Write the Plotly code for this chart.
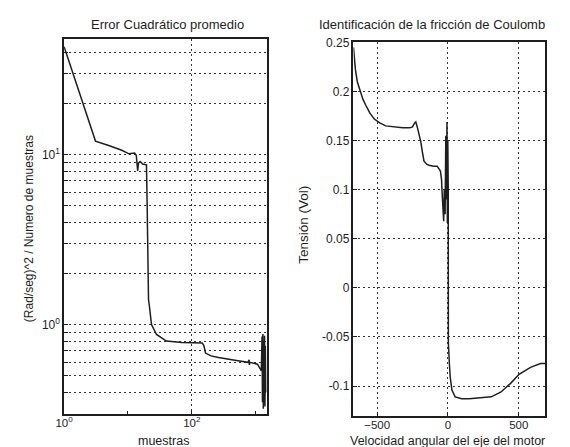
import plotly.graph_objects as go
import math

# ---- Left panel: mean squared error vs samples (log-log) ----
err_samples = [1, 3.1, 5, 8, 10.4, 12.7, 13.5, 14.2, 14.6, 15.5, 17, 19.5, 20, 20.5, 21, 21.6,
               23.4, 28, 40, 70, 146, 155, 164, 200, 262, 500, 760, 790, 800, 810, 1070, 1230,
               1260, 1280, 1300, 1320, 1340, 1360, 1380, 1400, 1420, 1440]
err_values = [43, 12, 11.3, 10.6, 10.1, 10.2, 9.9, 8.0, 8.9, 9.1, 8.8, 8.7, 5, 2, 1.4, 1.3,
              1.0, 0.875, 0.8, 0.785, 0.78, 0.75, 0.68, 0.655, 0.64, 0.615, 0.60, 0.62, 0.58, 0.60, 0.585, 0.535,
              0.85, 0.35, 0.88, 0.32, 0.8, 0.34, 0.86, 0.33, 0.75, 0.4]

# ---- Right panel: Coulomb friction identification ----
vel = [-667, -662, -653, -640, -620, -600, -580, -551, -520, -481, -440, -389, -319, -270, -250,
       -235, -227, -215, -192, -180, -169, -150, -134, -100, -76, -53, -45, -42, -38, -30, -26,
       -20, -15, -10, -7, -4, -1, 2, 3, 5, 10, 16, 28, 51, 97, 150, 236, 306, 375, 444, 502,
       583, 653, 688]
tension = [0.245, 0.232, 0.222, 0.21, 0.2, 0.192, 0.186, 0.178, 0.172, 0.168, 0.165, 0.164, 0.163,
           0.163, 0.164, 0.168, 0.169, 0.163, 0.149, 0.138, 0.129, 0.126, 0.125, 0.124, 0.124, 0.119,
           0.11, 0.099, 0.09, 0.068, 0.1, 0.075, 0.155, 0.09, 0.169, 0.066, 0.15, 0.1, -0.056, -0.071,
           -0.077, -0.091, -0.104, -0.111, -0.113, -0.113, -0.112, -0.111, -0.106, -0.097, -0.088,
           -0.081, -0.077, -0.077]

left_ygrid = [0.3, 0.4, 0.5, 0.6, 0.7, 0.8, 0.9, 1, 2, 3, 4, 5, 6, 7, 8, 9, 10, 20, 30, 40]
left_ylabels = {1: "10<sup>0</sup>", 10: "10<sup>1</sup>"}
left_xticks = [1, 100]
left_xlabels = ["10<sup>0</sup>", "10<sup>2</sup>"]
right_xticks = [-500, 0, 500]
right_yticks = [-0.1, -0.05, 0, 0.05, 0.1, 0.15, 0.2, 0.25]
right_ylabels = ["-0.1", "-0.05", "0", "0.05", "0.1", "0.15", "0.2", "0.25"]

W, H = 570, 447
ink = "#1e1e1e"
fam = "Liberation Sans, Arial, sans-serif"
font = dict(family=fam, size=12, color=ink)

fig = go.Figure()
fig.add_trace(go.Scatter(x=err_samples, y=err_values, mode="lines",
                         line=dict(color=ink, width=1.5), xaxis="x", yaxis="y", showlegend=False))
fig.add_trace(go.Scatter(x=vel, y=tension, mode="lines",
                         line=dict(color=ink, width=1.5), xaxis="x2", yaxis="y2", showlegend=False))

grid = dict(showgrid=True, gridcolor="#333", griddash="2px,3px", gridwidth=1)
frame = dict(showline=True, linecolor=ink, linewidth=1.5, mirror=True, zeroline=False,
             ticks="inside", ticklen=4, tickcolor=ink)
yfont = dict(tickfont=dict(size=12, color=ink))
xfont = dict(tickfont=dict(size=11.5, color=ink), ticklabelstandoff=-2)

def px_x(p):
    return p / W

def px_y(p):
    return 1 - p / H

def label(text, x, y, size, angle=0):
    return dict(text=text, x=px_x(x), y=px_y(y), xref="paper", yref="paper", showarrow=False,
                font=dict(family=fam, size=size, color=ink), xanchor="center", yanchor="middle",
                textangle=angle)

fig.update_layout(
    width=W, height=H, margin=dict(l=0, r=0, t=0, b=0),
    paper_bgcolor="white", plot_bgcolor="white", font=font,
    xaxis=dict(type="log", domain=[px_x(56), px_x(262)],
               range=[0, math.log10(1500)], tickmode="array", tickvals=left_xticks,
               ticktext=left_xlabels, anchor="y",
               minor=dict(tickmode="array", tickvals=[10, 1000], ticks="inside", ticklen=3,
                          tickcolor=ink, showgrid=False),
               **grid, **frame, **xfont),
    yaxis=dict(type="log", domain=[px_y(413), px_y(33)],
               range=[math.log10(0.3), math.log10(47.5)], tickmode="array",
               tickvals=left_ygrid, ticktext=[left_ylabels.get(v, "") for v in left_ygrid],
               anchor="x", **grid, **frame, **yfont),
    xaxis2=dict(domain=[px_x(350), px_x(545)], range=[-667, 688], tickmode="array",
                tickvals=right_xticks, anchor="y2", **grid, **frame, **xfont),
    yaxis2=dict(domain=[px_y(415), px_y(36)], range=[-0.13, 0.25], tickmode="array",
                tickvals=right_yticks, ticktext=right_ylabels, anchor="x2", **grid, **frame, **yfont),
    annotations=[
        label("Error Cuadrático promedio", 161, 18, 13),
        label("Identificación de la fricción de Coulomb", 430, 18, 13),
        label("muestras", 157, 441, 12.5),
        label("Velocidad angular del eje del motor", 446, 441, 12.5),
        label("(Rad/seg)^2 / Numero de muestras", 21, 225, 12),
        label("Tensión (Vol)", 299, 221, 13.5),
    ],
)
for a in fig.layout.annotations[4:]:
    a.textangle = -90

fig.write_html("out.html")
